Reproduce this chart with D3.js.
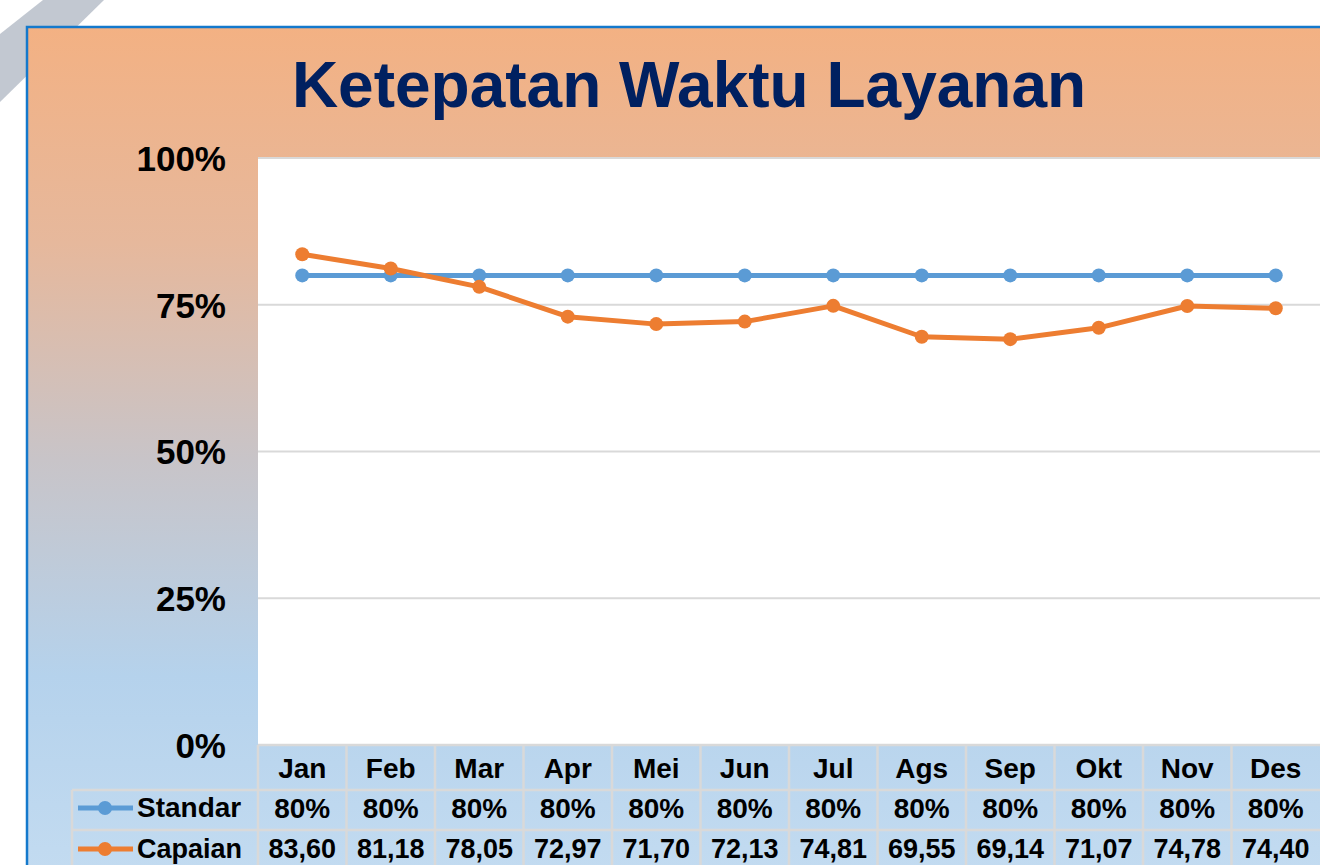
<!DOCTYPE html>
<html>
<head>
<meta charset="utf-8">
<script src="https://cdn.jsdelivr.net/npm/d3@7"></script>
<style>
  body { margin: 0; background: #fff; }
  svg { display: block; }
  text { font-family: "Liberation Sans", Arial, sans-serif; font-weight: bold; }
</style>
</head>
<body>
<svg width="1320" height="865"></svg>
<script>
// data
var months = ["Jan","Feb","Mar","Apr","Mei","Jun","Jul","Ags","Sep","Okt","Nov","Des"];
var standar = [80,80,80,80,80,80,80,80,80,80,80,80];
var capaian = [83.60,81.18,78.05,72.97,71.70,72.13,74.81,69.55,69.14,71.07,74.78,74.40];
var yTicks = [0,25,50,75,100];

var width = 1320, height = 865;
var plot = {left:258, right:1320, top:158, bottom:745};

var svg = d3.select("svg");

// gray diagonal stripe behind the frame
svg.append("polygon")
  .attr("points", "0,34 43,0 104,0 0,102")
  .attr("fill", "#c2c8d1");

// gradient background
var defs = svg.append("defs");
var grad = defs.append("linearGradient").attr("id","bg")
  .attr("x1",0).attr("y1",0).attr("x2",0).attr("y2",1);
grad.append("stop").attr("offset","0%").attr("stop-color","#f3b183");
grad.append("stop").attr("offset","25%").attr("stop-color","#e6b89c");
grad.append("stop").attr("offset","50%").attr("stop-color","#c8c4c8");
grad.append("stop").attr("offset","75%").attr("stop-color","#b5d2ec");
grad.append("stop").attr("offset","100%").attr("stop-color","#c4dcf1");

svg.append("rect")
  .attr("x",27).attr("y",27).attr("width",width).attr("height",height)
  .attr("fill","url(#bg)")
  .attr("stroke","#1479cc").attr("stroke-width",2.5);

// title
svg.append("text")
  .attr("x",689).attr("y",107)
  .attr("text-anchor","middle")
  .attr("font-size",64)
  .attr("fill","#002060")
  .text("Ketepatan Waktu Layanan");

// scales
var x = d3.scaleBand().domain(months).range([plot.left, plot.right]);
var y = d3.scaleLinear().domain([0,100]).range([plot.bottom, plot.top]);

// plot area
svg.append("rect")
  .attr("x",plot.left).attr("y",plot.top)
  .attr("width",plot.right-plot.left).attr("height",plot.bottom-plot.top)
  .attr("fill","#fff");

// gridlines
svg.append("g").selectAll("line")
  .data(yTicks.filter(function(d){ return d > 0; }))
  .enter().append("line")
    .attr("x1",plot.left).attr("x2",plot.right)
    .attr("y1",function(d){ return y(d); }).attr("y2",function(d){ return y(d); })
    .attr("stroke","#d9d9d9").attr("stroke-width",2);

// y axis labels
var yAxis = d3.axisLeft(y).tickValues(yTicks).tickSize(0).tickPadding(32)
  .tickFormat(function(d){ return d + "%"; });
var ya = svg.append("g").attr("transform","translate(" + plot.left + ",0)").call(yAxis);
ya.select(".domain").remove();
ya.selectAll("text")
  .attr("font-size",35).attr("fill","#000")
  .attr("font-family","Liberation Sans, Arial, sans-serif")
  .attr("dy","0.35em");

// lines
var line = d3.line()
  .x(function(d,i){ return x(months[i]) + x.bandwidth()/2; })
  .y(function(d){ return y(d); });

var series = [
  {name:"Standar", values:standar, color:"#5b9bd5"},
  {name:"Capaian", values:capaian, color:"#ed7d31"}
];

series.forEach(function(s){
  svg.append("path")
    .attr("d", line(s.values))
    .attr("fill","none").attr("stroke",s.color)
    .attr("stroke-width",5).attr("stroke-linejoin","round");
  svg.append("g").selectAll("circle")
    .data(s.values).enter().append("circle")
      .attr("cx",function(d,i){ return x(months[i]) + x.bandwidth()/2; })
      .attr("cy",function(d){ return y(d); })
      .attr("r",7).attr("fill",s.color);
});

// data table
var rowTop = [745, 790, 830, 875];
var tableLeft = 72;
var grid = svg.append("g").attr("stroke","#d9d9d9").attr("stroke-width",2.5).attr("fill","none");

// horizontal lines
grid.append("line").attr("x1",plot.left).attr("x2",plot.right).attr("y1",rowTop[0]).attr("y2",rowTop[0]);
grid.append("line").attr("x1",tableLeft).attr("x2",plot.right).attr("y1",rowTop[1]).attr("y2",rowTop[1]);
grid.append("line").attr("x1",tableLeft).attr("x2",plot.right).attr("y1",rowTop[2]).attr("y2",rowTop[2]);
// vertical lines
grid.append("line").attr("x1",tableLeft).attr("x2",tableLeft).attr("y1",rowTop[1]).attr("y2",rowTop[3]);
grid.selectAll("line.v").data(months).enter().append("line")
  .attr("class","v")
  .attr("x1",function(d){ return x(d); }).attr("x2",function(d){ return x(d); })
  .attr("y1",rowTop[0]).attr("y2",rowTop[3]);

var fmt = function(v){ return v.toFixed(2).replace(".", ","); };

svg.append("g").selectAll("text")
  .data(months).enter().append("text")
    .attr("x",function(d){ return x(d) + x.bandwidth()/2; })
    .attr("y",778).attr("text-anchor","middle")
    .attr("font-size",28).text(function(d){ return d; });

svg.append("g").selectAll("text")
  .data(standar).enter().append("text")
    .attr("x",function(d,i){ return x(months[i]) + x.bandwidth()/2; })
    .attr("y",818).attr("text-anchor","middle")
    .attr("font-size",28).text(function(d){ return d + "%"; });

svg.append("g").selectAll("text")
  .data(capaian).enter().append("text")
    .attr("x",function(d,i){ return x(months[i]) + x.bandwidth()/2; })
    .attr("y",858).attr("text-anchor","middle")
    .attr("font-size",27).text(function(d){ return fmt(d); });

// legend keys in the table
var keyY = [808, 849];
series.forEach(function(s,i){
  svg.append("line")
    .attr("x1",78).attr("x2",133).attr("y1",keyY[i]).attr("y2",keyY[i])
    .attr("stroke",s.color).attr("stroke-width",5);
  svg.append("circle").attr("cx",105).attr("cy",keyY[i]).attr("r",7).attr("fill",s.color);
  svg.append("text").attr("x",137).attr("y",keyY[i]+9)
    .attr("font-size",i ? 27 : 28).text(s.name);
});
</script>
</body>
</html>
